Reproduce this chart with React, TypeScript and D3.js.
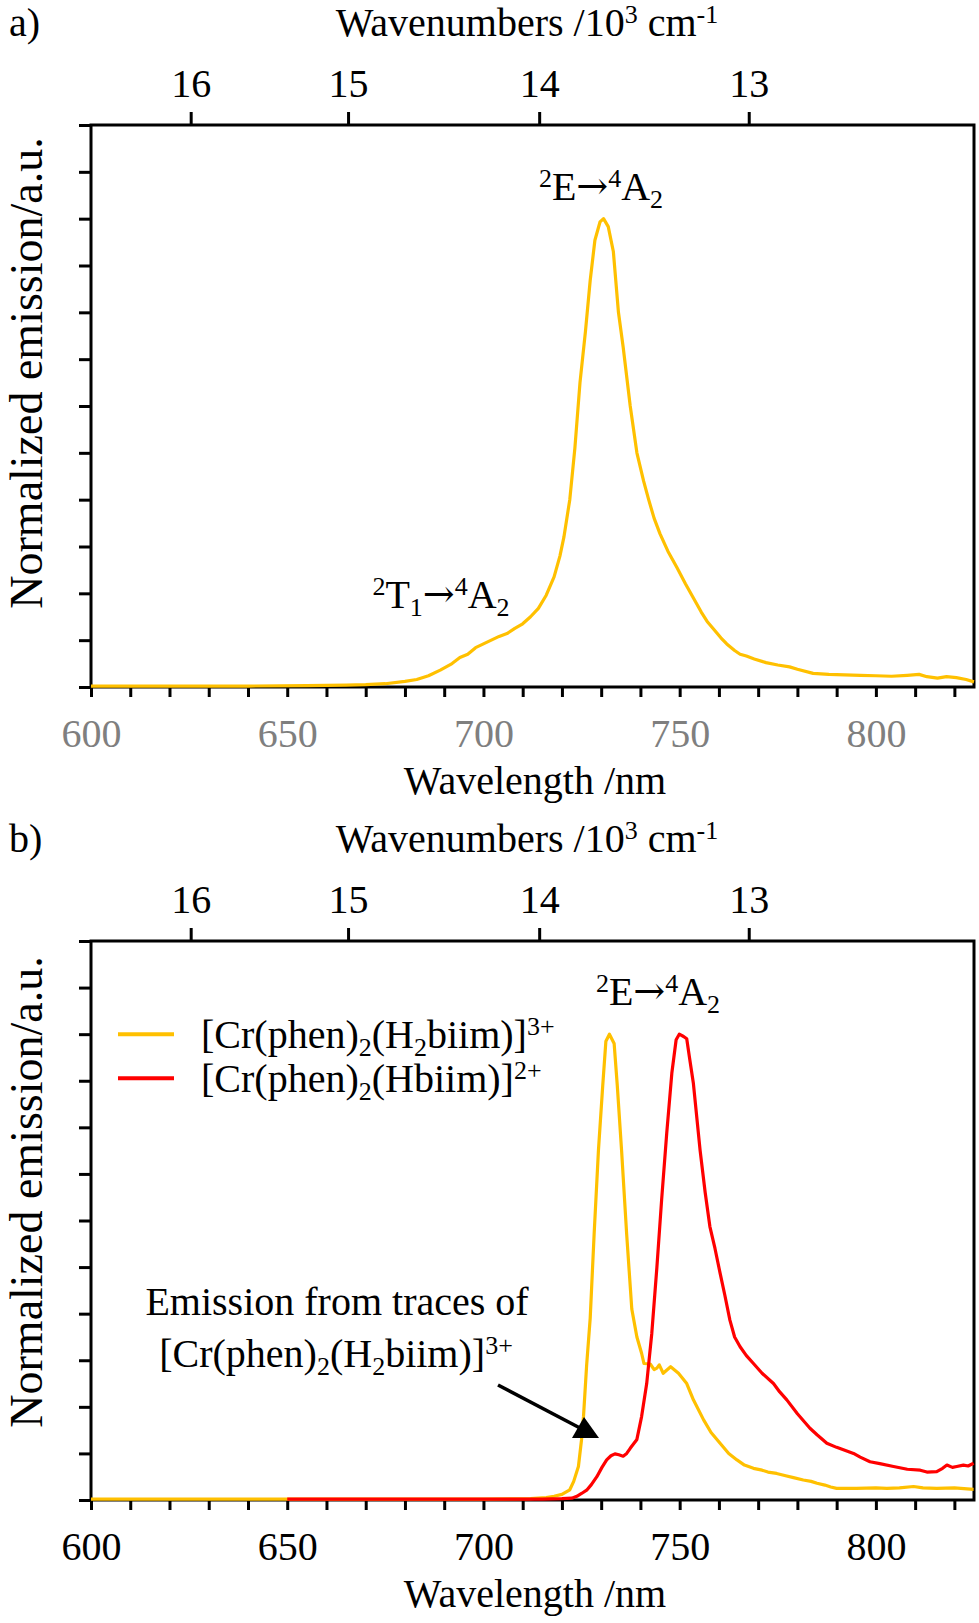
import { useEffect, useRef } from 'react';
import * as d3 from 'd3';

// spectra: [wavelength nm, normalized emission]
const spectrumA: [number, number][] = [
  [600, 0.002], [620, 0.002], [640, 0.002], [655, 0.003], [665, 0.004], [670, 0.005],
  [675, 0.007], [680, 0.012], [683, 0.016], [686, 0.024], [689, 0.036], [692, 0.05],
  [694, 0.063], [696, 0.07], [698, 0.084], [700, 0.092], [702, 0.1], [704, 0.108],
  [706, 0.114], [708, 0.125], [710, 0.135], [712, 0.15], [714, 0.168], [716, 0.196],
  [718, 0.235], [719.5, 0.28], [720.5, 0.32], [722, 0.4], [723.3, 0.51], [724.6, 0.65],
  [726, 0.76], [727.2, 0.868], [728.4, 0.954], [729.7, 0.993], [730.6, 1.0], [731.8, 0.983],
  [733.1, 0.93], [734.4, 0.8], [735.6, 0.726], [737.4, 0.6], [739.1, 0.5], [740.8, 0.44],
  [742.1, 0.4], [743.5, 0.36], [745, 0.327], [747, 0.29], [749.3, 0.255], [751.5, 0.22],
  [753.5, 0.19], [755.5, 0.16], [757, 0.14], [759, 0.12], [760.5, 0.105], [762, 0.092],
  [764, 0.078], [765.4, 0.07], [767, 0.066], [769, 0.06], [772, 0.052], [775, 0.047],
  [778, 0.043], [780, 0.038], [784, 0.029], [788, 0.027], [792, 0.026], [796, 0.025],
  [800, 0.024], [804, 0.023], [808, 0.025], [811, 0.027], [813, 0.022], [815.7, 0.019],
  [818, 0.022], [820.5, 0.02], [823, 0.016], [825, 0.011],
];

const spectrumH2biim: [number, number][] = [
  [600, 0.002], [650, 0.002], [700, 0.002], [712, 0.003], [716, 0.005], [718, 0.008],
  [720, 0.012], [722, 0.022], [723, 0.04], [724.2, 0.072], [725, 0.13], [725.5, 0.18],
  [726.3, 0.29], [727.2, 0.39], [728.2, 0.57], [729.3, 0.75], [730.4, 0.89], [731.2, 0.985],
  [732.1, 1.0], [733.3, 0.98], [734.1, 0.89], [735.2, 0.75], [736.5, 0.57], [737.8, 0.41],
  [739.1, 0.35], [740.3, 0.315], [740.9, 0.293], [742.5, 0.292], [743.5, 0.28], [744.2, 0.283],
  [744.8, 0.29], [745.8, 0.272], [747.7, 0.286], [749.7, 0.272], [751.8, 0.25], [753.5, 0.215],
  [756.1, 0.172], [758, 0.145], [760.3, 0.122], [762.5, 0.1], [764.6, 0.086], [766.5, 0.075],
  [768.8, 0.068], [771, 0.064], [772.5, 0.06], [774.7, 0.057], [777, 0.052], [779, 0.048],
  [781.5, 0.043], [783.5, 0.04], [785, 0.036], [787, 0.032], [788.5, 0.028], [790, 0.025],
  [795, 0.025], [800, 0.026], [802.8, 0.025], [806, 0.026], [809.6, 0.029], [812, 0.026],
  [815.5, 0.025], [820, 0.026], [824.9, 0.023],
];

const spectrumHbiim: [number, number][] = [
  [650, 0.002], [680, 0.002], [700, 0.002], [715, 0.002], [720, 0.003], [722.5, 0.004],
  [723.8, 0.008], [725, 0.014], [726.3, 0.021], [727.5, 0.033], [728.9, 0.05], [730.2, 0.07],
  [731.4, 0.086], [732.5, 0.095], [733.5, 0.099], [734.5, 0.097], [735.6, 0.094], [736.5, 0.1],
  [737.4, 0.111], [739.1, 0.13], [740.3, 0.179], [741.6, 0.25], [742.9, 0.358], [744.2, 0.5],
  [745.4, 0.644], [746.7, 0.787], [748, 0.916], [749.1, 0.988], [749.9, 1.0], [751, 0.995],
  [751.8, 0.99], [752.5, 0.95], [753.5, 0.894], [755.2, 0.751], [756.5, 0.66], [757.7, 0.587],
  [759, 0.54], [760.3, 0.487], [761.5, 0.44], [762.8, 0.386], [764, 0.35], [765.4, 0.329],
  [767, 0.31], [768.8, 0.293], [771, 0.272], [773.9, 0.25], [775.5, 0.232], [777.3, 0.215],
  [780, 0.185], [783.2, 0.154], [785, 0.14], [787.5, 0.122], [790, 0.113], [794.3, 0.1],
  [796, 0.092], [798.5, 0.082], [801, 0.078], [804.5, 0.072], [808, 0.066], [811.3, 0.064],
  [813, 0.06], [815.5, 0.061], [817, 0.068], [818.1, 0.075], [819.5, 0.07], [820.6, 0.072],
  [822.3, 0.075], [823.5, 0.073], [824.9, 0.079],
];

const wavelengthLabels = [600, 650, 700, 750, 800];
const wavenumberLabels = [16, 15, 14, 13];
// where the figure puts the wavenumber ticks, in nm along the bottom scale
const wavenumberTickNm = [625.4, 665.5, 714.2, 767.6];
const legendNames = ['H2biim', 'Hbiim'];

const W = 979;
const H = 1623;
const FONT = '"Liberation Serif", "Times New Roman", serif';
const FS = 40;
const GOLD = '#ffc000';
const RED = '#ff0000';

type Part = [string, 'sup' | 'sub' | 'arrow' | null];

// text with super/subscripts built from tspans
function rich(
  g: d3.Selection<SVGGElement, unknown, null, undefined>,
  x: number, y: number, parts: Part[], anchor = 'start', fill = '#000',
) {
  const t = g.append('text')
    .attr('x', x).attr('y', y)
    .attr('font-family', FONT).attr('font-size', FS)
    .attr('fill', fill).attr('text-anchor', anchor);
  let shift = 0;
  parts.forEach(([s, kind]) => {
    const target = kind === 'sup' ? -0.33 * FS : kind === 'sub' ? 0.2 * FS : kind === 'arrow' ? -0.02 * FS : 0;
    const ts = t.append('tspan')
      .attr('dy', target - shift)
      .attr('font-size', kind === 'sup' || kind === 'sub' ? FS * 0.65 : FS)
      .text(s);
    if (kind === 'arrow') ts.attr('font-family', '"DejaVu Serif", serif').attr('font-size', FS * 0.95);
    shift = target;
  });
  return t;
}

const complexH2: Part[] = [['[Cr(phen)', null], ['2', 'sub'], ['(H', null], ['2', 'sub'], ['biim)]', null], ['3+', 'sup']];
const complexH: Part[] = [['[Cr(phen)', null], ['2', 'sub'], ['(Hbiim)]', null], ['2+', 'sup']];
const transE: Part[] = [['2', 'sup'], ['E', null], ['\u2192', 'arrow'], ['4', 'sup'], ['A', null], ['2', 'sub']];
const transT: Part[] = [['2', 'sup'], ['T', null], ['1', 'sub'], ['\u2192', 'arrow'], ['4', 'sup'], ['A', null], ['2', 'sub']];

export default function App() {
  const svgRef = useRef<SVGSVGElement>(null);

  useEffect(() => {
    document.body.style.margin = '0';
    if (!svgRef.current) return;
    const svg = d3.select(svgRef.current);
    svg.selectAll('*').remove();

    const x = d3.scaleLinear().domain([600, 825]).range([91, 974]);

    const panels = [
      { tag: 'a)', top: 125, bottom: 687, bottomColor: '#7f7f7f', labelY: 373 },
      { tag: 'b)', top: 941, bottom: 1500, bottomColor: '#000', labelY: 1192 },
    ];

    const line = (y: d3.ScaleLinear<number, number>) =>
      d3.line<[number, number]>().x((d) => x(d[0])).y((d) => y(d[1]));

    panels.forEach((p, pi) => {
      const g = svg.append('g');
      const y = d3.scaleLinear().domain([0, 1.2]).range([p.bottom, p.top]);
      const off = p.top - 125;

      // panel tag and top title
      g.append('text').attr('x', 9).attr('y', 36 + off)
        .attr('font-family', FONT).attr('font-size', FS).text(p.tag);
      rich(g, 527, 36 + off, [['Wavenumbers /10', null], ['3', 'sup'], [' cm', null], ['-1', 'sup']], 'middle');

      // bottom axis
      const bx = g.append('g').attr('transform', `translate(0,${p.bottom})`)
        .call(d3.axisBottom(x)
          .tickValues(d3.range(600, 821, 10))
          .tickSize(10)
          .tickFormat((d) => (wavelengthLabels.includes(+d) ? String(d) : '')));
      bx.select('.domain').remove();
      bx.selectAll('line').attr('stroke', '#000').attr('stroke-width', 3);
      bx.selectAll('text').attr('y', 60).attr('dy', null)
        .attr('font-family', FONT).attr('font-size', FS).attr('fill', p.bottomColor);

      // top axis (wavenumbers)
      const tx = g.append('g').attr('transform', `translate(0,${p.top})`)
        .call(d3.axisTop(x)
          .tickValues(wavenumberTickNm)
          .tickSize(13)
          .tickFormat((_, i) => String(wavenumberLabels[i])));
      tx.select('.domain').remove();
      tx.selectAll('line').attr('stroke', '#000').attr('stroke-width', 3);
      tx.selectAll('text').attr('y', -28).attr('dy', null)
        .attr('font-family', FONT).attr('font-size', FS).attr('fill', '#000');

      // left axis, unlabeled
      const ly = g.append('g').attr('transform', `translate(${x(600)},0)`)
        .call(d3.axisLeft(y)
          .tickValues(d3.range(0, 13).map((i) => i / 10))
          .tickSize(12)
          .tickFormat(() => ''));
      ly.select('.domain').remove();
      ly.selectAll('line').attr('stroke', '#000').attr('stroke-width', 3);

      // frame
      g.append('rect')
        .attr('x', x(600)).attr('y', p.top)
        .attr('width', x(825) - x(600)).attr('height', p.bottom - p.top)
        .attr('fill', 'none').attr('stroke', '#000').attr('stroke-width', 3);

      // y title
      g.append('text')
        .attr('transform', `translate(42,${p.labelY}) rotate(-90)`)
        .attr('text-anchor', 'middle')
        .attr('font-family', FONT).attr('font-size', 46)
        .text('Normalized emission/a.u.');

      // x title
      g.append('text')
        .attr('x', 535).attr('y', p.bottom + 107)
        .attr('text-anchor', 'middle')
        .attr('font-family', FONT).attr('font-size', FS)
        .text('Wavelength /nm');

      const curve = (data: [number, number][], color: string) =>
        g.append('path').datum(data)
          .attr('d', line(y))
          .attr('fill', 'none').attr('stroke', color)
          .attr('stroke-width', 3.2).attr('stroke-linejoin', 'round');

      if (pi === 0) {
        curve(spectrumA, GOLD);
        rich(g, 601, 200, transE, 'middle');
        rich(g, 441, 608, transT, 'middle');
      } else {
        curve(spectrumH2biim, GOLD);
        curve(spectrumHbiim, RED);
        rich(g, 658, 1005, transE, 'middle');

        // legend
        legendNames.forEach((name, i) => {
          const ly0 = y(1.0) + i * 44;
          g.append('line')
            .attr('x1', 118).attr('x2', 174).attr('y1', ly0).attr('y2', ly0)
            .attr('stroke', i === 0 ? GOLD : RED).attr('stroke-width', 4);
          rich(g, 201, ly0 + 14, name === 'H2biim' ? complexH2 : complexH);
        });

        // traces annotation
        g.append('text').attr('x', 337).attr('y', 1315)
          .attr('text-anchor', 'middle')
          .attr('font-family', FONT).attr('font-size', FS)
          .text('Emission from traces of');
        rich(g, 336, 1367, complexH2, 'middle');
        g.append('line')
          .attr('x1', 498).attr('y1', 1385).attr('x2', 580).attr('y2', 1428)
          .attr('stroke', '#000').attr('stroke-width', 3.5);
        g.append('path')
          .attr('d', 'M584,1417 L572,1438 L599,1438 Z')
          .attr('fill', '#000');
      }
    });
  }, []);

  return (
    <svg ref={svgRef} width={W} height={H} style={{ display: 'block', background: '#fff' }} />
  );
}
